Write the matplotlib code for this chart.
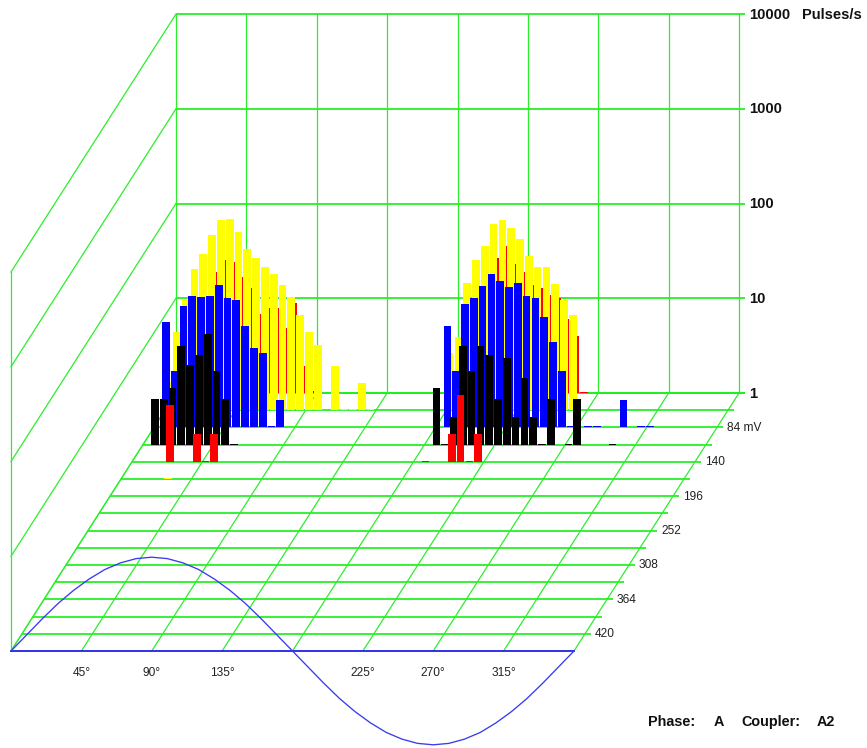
import matplotlib
matplotlib.use("Agg")
import matplotlib.pyplot as plt
from matplotlib.transforms import Affine2D

# ---- data (heights are log10 of pulses/s, bins are 5.625 deg wide) ----
BIN_DEG = 5.625
pulse_ticks = ["10000", "1000", "100", "10", "1"]
pulse_decades = [4, 3, 2, 1, 0]
phase_ticks = [45, 90, 135, 225, 270, 315]
phase_grid = [0, 45, 90, 135, 180, 225, 270, 315, 360]
mv_ticks = [84, 140, 196, 252, 308, 364, 420]
mv_grid = [28 + 28 * i for i in range(16)]

red28_bins = [2, 3, 4, 5, 6, 7, 8, 9, 10, 11, 12, 13, 14, 15,
              34, 35, 36, 37, 38, 39, 40, 41, 42, 43, 44, 45, 46]
red28_log = [.70, .90, 1.28, 1.40, 1.38, 1.22, 1.11, .83, .90, .90, .69, .95, .29, .02,
             .70, .90, 1.43, 1.55, 1.36, 1.28, 1.14, 1.11, 1.03, 1.00, .78, .60, .01]

yellow56_bins = [0, 1, 2, 3, 4, 5, 6, 7, 8, 9, 10, 11, 12, 13, 14, 15, 16, 17, 19, 20, 21, 22, 23,
                 32, 33, 34, 35, 36, 37, 38, 39, 40, 41, 42, 43, 44, 45, 46]
yellow56_log = [.30, .83, 1.16, 1.49, 1.65, 1.85, 2.01, 2.02, 1.88, 1.70, 1.61, 1.51, 1.44, 1.32,
                1.19, 1.00, .83, .69, .47, .01, .01, .29, .01,
                .60, .77, 1.34, 1.58, 1.73, 1.97, 2.01, 1.92, 1.81, 1.63, 1.51, 1.51, 1.33, 1.16, 1.00]

blue84_bins = [1, 2, 3, 4, 5, 6, 7, 8, 9, 10, 11, 12, 13, 14,
               33, 34, 35, 36, 37, 38, 39, 40, 41, 42, 43, 44, 45, 46, 47, 49, 50, 53, 55, 56]
blue84_log = [1.11, .60, 1.28, 1.39, 1.38, 1.39, 1.50, 1.37, 1.34, 1.07, .84, .78, .01, .29,
              1.07, .60, 1.30, 1.37, 1.49, 1.62, 1.55, 1.48, 1.52, 1.39, 1.37, 1.17, .90, .60,
              .01, .01, .01, .29, .01, .01]

black112_bins = [1, 2, 3, 4, 5, 6, 7, 8, 9, 10,
                 33, 34, 35, 36, 37, 38, 39, 40, 41, 42, 43, 44, 45, 46, 48, 49, 53]
black112_log = [.48, .48, .60, 1.04, .84, .95, 1.17, .78, .48, .01,
                .60, .01, .29, 1.04, .78, 1.04, .95, .48, .91, .29, .70, .29, .01, .48, .01, .48, .01]

red140_bins = [4, 7, 8, 9, 33, 36, 37, 38, 39]
red140_log = [.60, .29, .01, .29, .01, .29, .70, .01, .29]

yellow168_bins = [5]
yellow168_log = [.01]

wave_phase = list(range(0, 361, 10))
wave_log = [.00, .17, .34, .50, .64, .76, .86, .93, .975, .99, .975, .93, .86, .76, .64, .50, .34, .17,
            .00, -.17, -.34, -.50, -.64, -.76, -.86, -.93, -.975, -.99, -.975, -.93, -.86, -.76,
            -.64, -.50, -.34, -.17, .00]

# ---- oblique projection: (phase, decades) in the plane of a given mV ----
FRONT_X, FRONT_Y = 11.0, 651.0
PHASE_PX = 563.0 / 360.0
DECADE_PX = 94.75
STEP_X, STEP_Y = 11.0, 17.2


def plane(mv):
    k = (448 - mv) / 28.0
    return Affine2D.from_values(PHASE_PX, 0, 0, -DECADE_PX,
                                FRONT_X + k * STEP_X, FRONT_Y - k * STEP_Y)


fig = plt.figure(figsize=(8.67, 7.48), dpi=100)
ax = fig.add_axes([0, 0, 1, 1])
ax.set_axis_off()
GREEN = "#1fee1f"
BLUE = "#3a3af0"
H = dict(color=GREEN, lw=1.25, solid_capstyle="butt", zorder=1)
D = dict(color="#2cee2c", lw=0.9, zorder=1)


def t(mv):
    return plane(mv) + ax.transData


# back wall
for dec in pulse_decades:
    ax.plot([0, 360 + 6 / PHASE_PX], [dec, dec], transform=t(28), **H)
for ph in phase_grid:
    ax.plot([ph, ph], [0, 4], transform=t(28), **D)
# left wall
ax.plot([0, 0], [0, 4], transform=t(448), **D)
for dec in pulse_decades:
    p0 = plane(448).transform((0, dec))
    p1 = plane(28).transform((0, dec))
    ax.plot([p0[0], p1[0]], [p0[1], p1[1]], **D)
# floor
for mv in mv_grid[:-1]:
    ax.plot([0, 360 + 6 / PHASE_PX], [0, 0], transform=t(mv), **H)
for ph in phase_grid:
    p0 = plane(448).transform((ph, 0))
    p1 = plane(28).transform((ph, 0))
    ax.plot([p0[0], p1[0]], [p0[1], p1[1]], **D)

# bars, back to front
series = [(28, red28_bins, red28_log, "#ff0000"),
          (56, yellow56_bins, yellow56_log, "#ffff00"),
          (84, blue84_bins, blue84_log, "#0000ff"),
          (112, black112_bins, black112_log, "#000000"),
          (140, red140_bins, red140_log, "#ff0000"),
          (168, yellow168_bins, yellow168_log, "#ffff00")]
for z, (mv, bins, vals, col) in enumerate(series):
    ax.bar([b * BIN_DEG - 0.45 for b in bins], vals, width=7.7 / PHASE_PX, align="edge",
           color=col, linewidth=0, transform=t(mv), zorder=2 + z)

# reference wave
ax.plot([0, 360], [0, 0], color="#2020e8", lw=1.3, transform=t(448), zorder=9)
ax.plot(wave_phase, wave_log, color=BLUE, lw=0.95, transform=t(448), zorder=9)

ax.set_xlim(0, 867)
ax.set_ylim(748, 0)

# text
FONT = ["Liberation Sans", "DejaVu Sans"]
TC = "#222222"
for lab, dec in zip(pulse_ticks, pulse_decades):
    p = plane(28).transform((0, dec))
    ax.text(749, p[1] + 0.5, lab, family=FONT, weight="bold", fontsize=10.7,
            ha="left", va="center", color="#111111")
ax.text(802, 14.5, "Pulses/s", family=FONT, weight="bold", fontsize=10.5,
        ha="left", va="center", color="#111111")
for mv in mv_ticks:
    p = plane(mv).transform((360, 0))
    lab = f"{mv} mV" if mv == 84 else str(mv)
    ax.text(p[0] + 10, p[1] + 0.5, lab, family=FONT, fontsize=8.6,
            ha="left", va="center", color=TC)
for ph in phase_ticks:
    p = plane(448).transform((ph, 0))
    ax.text(p[0], 673, f"{ph}\N{DEGREE SIGN}", family=FONT, fontsize=8.6,
            ha="center", va="center", color=TC)
for x, s in [(648, "Phase:"), (714, "A"), (741, "Coupler:"), (817, "A2")]:
    ax.text(x, 722, s, family=FONT, weight="bold", fontsize=10.4,
            ha="left", va="center", color="#111111")

fig.savefig("out.png", dpi=100, facecolor="white")
